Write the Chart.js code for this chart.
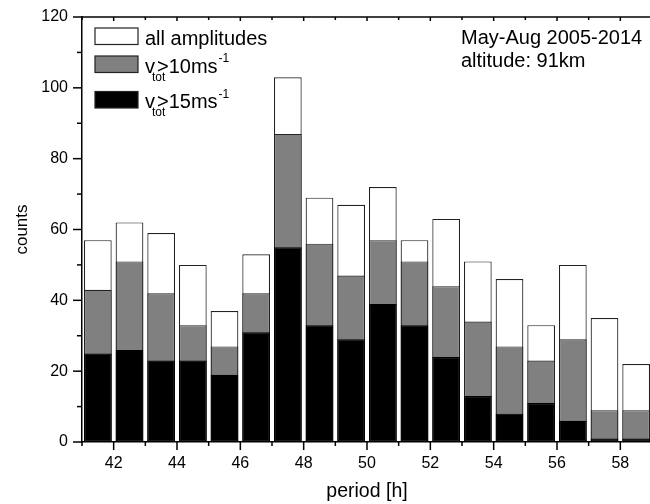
<!DOCTYPE html>
<html>
<head>
<meta charset="utf-8">
<script src="https://cdn.jsdelivr.net/npm/chart.js@4/dist/chart.umd.min.js"></script>
<style>
html,body{margin:0;padding:0;background:#ffffff;overflow:hidden;}
#wrap{width:660px;height:504px;position:relative;}
</style>
</head>
<body>
<div id="wrap"><canvas id="c"></canvas></div>
<script>
// ---- data ----
const periods = [41.5,42.5,43.5,44.5,45.5,46.5,47.5,48.5,49.5,50.5,51.5,52.5,53.5,54.5,55.5,56.5,57.5,58.5];
const allAmplitudes = [57,62,59,50,37,53,103,69,67,72,57,63,51,46,33,50,35,22];
const vtotAbove10 = [43,51,42,33,27,42,87,56,47,57,51,44,34,27,23,29,9,9];
const vtotAbove15 = [25,26,23,23,19,31,55,33,29,39,33,24,13,8,11,6,1,1];
const xTickValues = [42,44,46,48,50,52,54,56,58];
const yTickValues = [0,20,40,60,80,100,120];
const legendTexts = [
  [{t:'all amplitudes'}],
  [{t:'v'},{t:'tot',sub:true},{t:'>10ms'},{t:'-1',sup:true}],
  [{t:'v'},{t:'tot',sub:true},{t:'>15ms'},{t:'-1',sup:true}]
];
const annotationLines = ['May-Aug 2005-2014','altitude: 91km'];

const FONT = "'Liberation Sans', Arial, sans-serif";

function pts(vals){ return periods.map((p,i)=>({x:p,y:vals[i]})); }

const decoPlugin = {
  id:'deco',
  afterDraw(chart){
    const ctx = chart.ctx, ca = chart.chartArea;
    const xs = chart.scales.x, ys = chart.scales.y;
    ctx.save();
    ctx.strokeStyle = '#000'; ctx.lineWidth = 1.5;
    // top frame line
    ctx.beginPath(); ctx.moveTo(ca.left, ca.top); ctx.lineTo(ca.right+2, ca.top); ctx.stroke();
    // x tick marks (bottom outward, top inward)
    for(let v=Math.ceil(xs.min); v<=xs.max; v++){
      const px = xs.getPixelForValue(v);
      const major = v%2===0;
      ctx.beginPath();
      ctx.moveTo(px, ca.bottom); ctx.lineTo(px, ca.bottom + (major?8:4));
      ctx.moveTo(px, ca.top); ctx.lineTo(px, ca.top + (major?4:3));
      ctx.stroke();
    }
    // y tick marks (left outward)
    for(let v=ys.min; v<=ys.max; v+=10){
      const py = ys.getPixelForValue(v);
      const major = v%20===0;
      ctx.beginPath(); ctx.moveTo(ca.left, py); ctx.lineTo(ca.left - (major?9:5), py); ctx.stroke();
    }
    // legend
    const ds = chart.data.datasets;
    const rowTop = [28,56,91.5], boxH = 16.5;
    legendTexts.forEach((parts,i)=>{
      ctx.fillStyle = ds[i].backgroundColor;
      ctx.fillRect(95, rowTop[i], 43, boxH);
      ctx.strokeStyle = '#222'; ctx.lineWidth = 1.2;
      ctx.strokeRect(95, rowTop[i], 43, boxH);
      const base = rowTop[i] + boxH;
      let x = 145;
      ctx.fillStyle = '#000'; ctx.textBaseline = 'alphabetic'; ctx.textAlign = 'left';
      parts.forEach(p=>{
        if(p.sub){
          ctx.font = '12px ' + FONT;
          ctx.fillText(p.t, x - 3, base + 8);
          x += 2;
        } else if(p.sup){
          ctx.font = '12px ' + FONT;
          ctx.fillText(p.t, x + 1, base - 10.5);
          x += ctx.measureText(p.t).width + 1;
        } else {
          ctx.font = '20px ' + FONT;
          ctx.fillText(p.t, x, base);
          x += ctx.measureText(p.t).width;
        }
      });
    });
    // annotation
    ctx.font = '20px ' + FONT; ctx.fillStyle = '#000';
    ctx.fillText(annotationLines[0], 461, 43.5);
    ctx.fillText(annotationLines[1], 461, 66.7);
    ctx.restore();
  }
};

new Chart(document.getElementById('c'), {
  type:'bar',
  data:{
    datasets:[
      {label:'all amplitudes', data:pts(allAmplitudes), backgroundColor:'#ffffff', borderColor:'#222222', borderWidth:1.2, order:2},
      {label:'vtot>10ms-1', data:pts(vtotAbove10), backgroundColor:'#808080', borderColor:'#222222', borderWidth:1.2, order:1},
      {label:'vtot>15ms-1', data:pts(vtotAbove15), backgroundColor:'#000000', borderColor:'#000000', borderWidth:1.2, order:0}
    ]
  },
  options:{
    responsive:true, maintainAspectRatio:false, animation:false,
    devicePixelRatio:1,
    layout:{padding:{top:17,right:8,left:0,bottom:0}},
    datasets:{bar:{grouped:false, barPercentage:0.875, categoryPercentage:1.0, borderSkipped:false}},
    plugins:{legend:{display:false}, tooltip:{enabled:false}},
    scales:{
      x:{
        type:'linear', min:41, max:59, offset:false,
        afterBuildTicks:s=>{ s.ticks = xTickValues.map(v=>({value:v})); },
        afterFit:s=>{ s.height = 62; },
        grid:{display:false, drawTicks:true, tickLength:8, offset:false},
        border:{display:true, color:'#000', width:1.5},
        ticks:{color:'#000', font:{family:FONT, size:16}, padding:4, maxRotation:0, autoSkip:false},
        title:{display:true, text:'period [h]', color:'#000', font:{family:FONT, size:19.5}, padding:{top:0,bottom:1}}
      },
      y:{
        type:'linear', min:0, max:120,
        afterBuildTicks:s=>{ s.ticks = yTickValues.map(v=>({value:v})); },
        afterFit:s=>{ s.width = 82; },
        grid:{display:false, drawTicks:true, tickLength:9},
        border:{display:true, color:'#000', width:1.5},
        ticks:{color:'#000', font:{family:FONT, size:16}, padding:5},
        title:{display:true, text:'counts', color:'#000', font:{family:FONT, size:17}, padding:{top:12,bottom:0}}
      }
    }
  },
  plugins:[decoPlugin]
});
</script>
</body>
</html>
